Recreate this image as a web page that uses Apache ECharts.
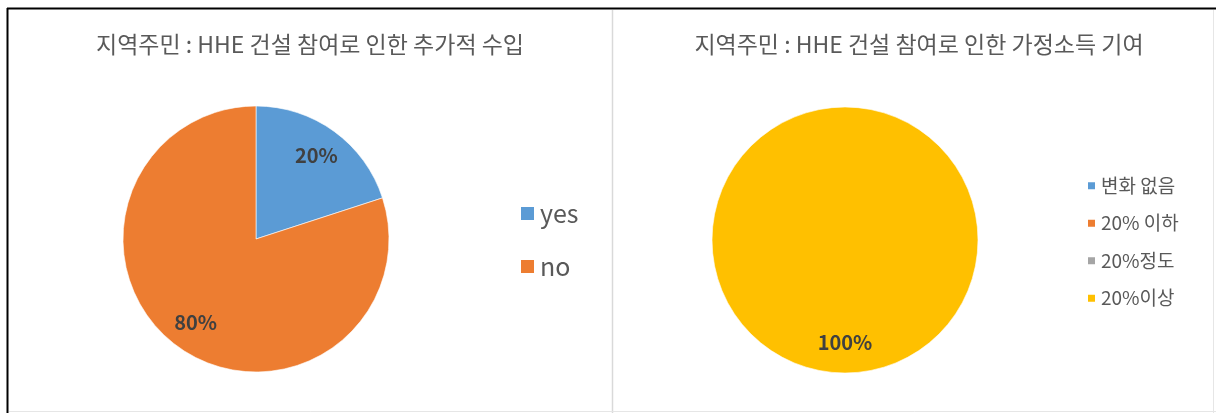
<!DOCTYPE html>
<html>
<head>
<meta charset="utf-8">
<script src="https://cdn.jsdelivr.net/npm/echarts@6/dist/echarts.min.js"></script>
<style>
  html, body { margin: 0; padding: 0; background: #fff; }
  #chart { width: 1216px; height: 413px; }
</style>
</head>
<body>
<div id="chart"></div>
<script>
// Left chart: additional income from joining HHE construction
const leftTitle = '지역주민 : HHE 건설 참여로 인한 추가적 수입';
const leftCategories = ['yes', 'no'];
const leftValues = [20, 80];
const leftColors = ['#5B9BD5', '#ED7D31'];

// Right chart: contribution to household income
const rightTitle = '지역주민 : HHE 건설 참여로 인한 가정소득 기여';
const rightCategories = ['변화 없음', '20% 이하', '20%정도', '20%이상'];
const rightValues = [0, 0, 0, 100];
const rightColors = ['#5B9BD5', '#ED7D31', '#A5A5A5', '#FFC000'];

const FONT = '"Noto Sans CJK KR", "Noto Sans", sans-serif';
const R = 133;

function pieData(cats, vals, colors) {
  return cats.map((c, i) => ({ name: c, value: vals[i], itemStyle: { color: colors[i] } }));
}
function labelData(cats, vals) {
  return cats.map((c, i) => ({ name: c, value: vals[i] }));
}

const percentLabel = {
  show: true,
  position: 'inside',
  fontFamily: FONT,
  fontWeight: 'bold',
  fontSize: 20,
  color: '#404040',
  formatter: p => (p.value > 0 ? Math.round(p.percent) + '%' : '')
};

function pieSeries(center, cats, vals, colors) {
  return [
    {
      type: 'pie',
      center: center,
      radius: [0, R],
      startAngle: 90,
      clockwise: true,
      animation: false,
      label: { show: false },
      labelLine: { show: false },
      itemStyle: { borderColor: '#fff', borderWidth: 0.6 },
      emphasis: { disabled: true },
      data: pieData(cats, vals, colors)
    },
    {
      // transparent ring that places the percentage labels further out
      type: 'pie',
      center: center,
      radius: [R * 0.5, R],
      startAngle: 90,
      clockwise: true,
      animation: false,
      silent: true,
      label: percentLabel,
      labelLine: { show: false },
      itemStyle: { color: 'rgba(0,0,0,0)' },
      emphasis: { disabled: true },
      data: labelData(cats, vals)
    }
  ];
}

const chart = echarts.init(document.getElementById('chart'), null, { renderer: 'canvas' });

chart.setOption({
  backgroundColor: '#fff',
  animation: false,
  title: [
    {
      text: leftTitle,
      left: 305, top: 28, textAlign: 'center',
      textStyle: { fontFamily: FONT, fontSize: 23, fontWeight: 'normal', color: '#595959' }
    },
    {
      text: rightTitle,
      left: 914, top: 28, textAlign: 'center',
      textStyle: { fontFamily: FONT, fontSize: 23, fontWeight: 'normal', color: '#595959' }
    }
  ],
  legend: [
    {
      orient: 'vertical',
      left: 514, top: 196,
      itemWidth: 15, itemHeight: 15, itemGap: 28,
      icon: 'rect',
      textStyle: { fontFamily: FONT, fontSize: 25, lineHeight: 25, color: '#595959' },
      data: leftCategories.map((c, i) => ({ name: c, itemStyle: { color: leftColors[i] } }))
    },
    {
      orient: 'vertical',
      left: 1081, top: 171,
      itemWidth: 9, itemHeight: 9, itemGap: 18,
      itemTextGap: 5,
      icon: 'rect',
      textStyle: { fontFamily: FONT, fontSize: 19, lineHeight: 19.5, color: '#595959' },
      data: rightCategories.map((c, i) => ({ name: c, itemStyle: { color: rightColors[i] } }))
    }
  ],
  graphic: [
    // outer frame and panel divider
    { type: 'line', shape: { x1: 7, y1: 8.5, x2: 1216, y2: 8.5 }, style: { stroke: '#000', lineWidth: 2 } },
    { type: 'line', shape: { x1: 7.5, y1: 8, x2: 7.5, y2: 413 }, style: { stroke: '#000', lineWidth: 2 } },
    { type: 'line', shape: { x1: 612.5, y1: 10, x2: 612.5, y2: 413 }, style: { stroke: '#d9d9d9', lineWidth: 1.5 } },
    { type: 'line', shape: { x1: 1213.5, y1: 10, x2: 1213.5, y2: 413 }, style: { stroke: '#e6e6e6', lineWidth: 1 } },
    { type: 'line', shape: { x1: 9, y1: 411.5, x2: 1216, y2: 411.5 }, style: { stroke: '#e6e6e6', lineWidth: 1 } }
  ],
  series: [
    ...pieSeries([256, 239], leftCategories, leftValues, leftColors),
    ...pieSeries([845, 240], rightCategories, rightValues, rightColors)
  ]
});
</script>
</body>
</html>
